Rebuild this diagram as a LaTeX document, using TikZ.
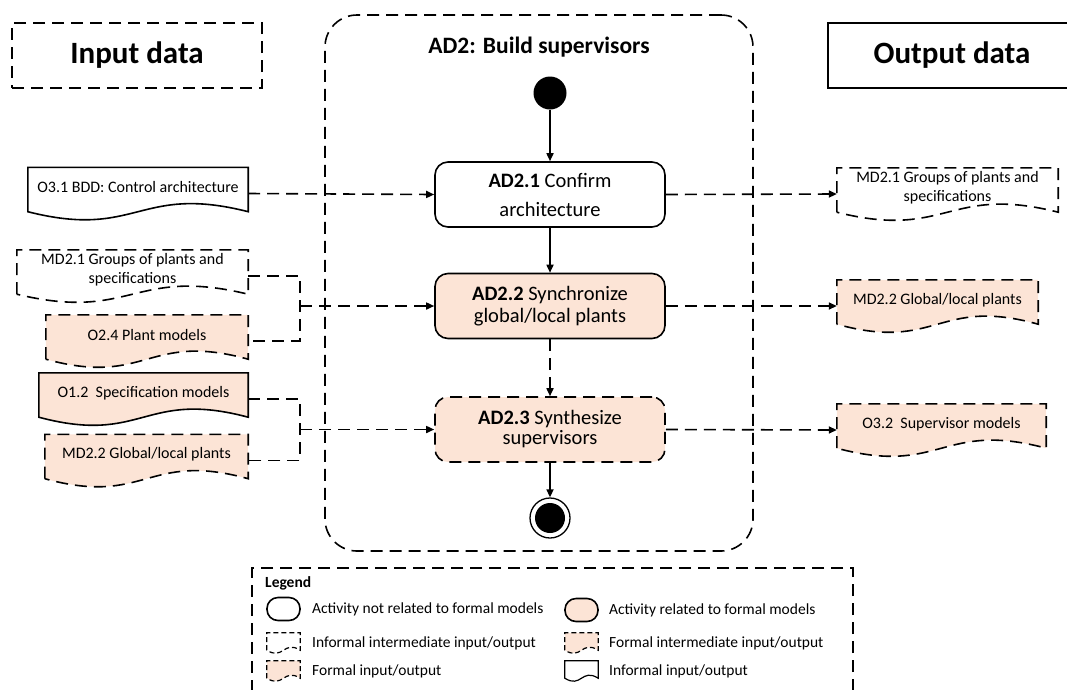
\documentclass[tikz,border=0pt]{standalone}
\usepackage{fontspec}
\setmainfont{Carlito}
\usetikzlibrary{arrows.meta,backgrounds,calc}
\definecolor{peach}{RGB}{252,228,214}
\newcommand\docoutline[3]{%
  \path[#2] ($(#1.south west)+(0,-#3)$) -- (#1.north west) -- (#1.north east) -- ($(#1.south east)+(0,-#3)$)
  .. controls ($(#1.south)+(0,{-4.5*#3})$) and ($(#1.south)+(0,{2.5*#3})$) .. ($(#1.south west)+(0,-#3)$) -- cycle;}
\tikzset{
  lw/.style={line width=1.6pt},
  dsh/.style={dash pattern=on 12pt off 7pt},
  smalldsh/.style={dash pattern=on 5pt off 3pt},
  conn/.style={line width=1.6pt, -{Triangle[length=8pt,width=7pt]}},
  activity/.style={draw, line width=1.6pt, rounded corners=13pt, minimum width=230pt, minimum height=65pt, align=center},
  docnode/.style={minimum width=#1, minimum height=52pt, inner sep=0pt, draw=none},
  doctext/.style={font=\fontsize{16}{19}\selectfont, align=center, yshift=6pt},
  legtext/.style={anchor=west, font=\fontsize{15.5}{18}\selectfont, inner sep=0pt},
  icondoc/.style={minimum width=33pt, minimum height=20pt, inner sep=0pt, draw=none},
}
\begin{document}
\begin{tikzpicture}[x=1pt,y=-1pt]
\useasboundingbox (0,0) rectangle (1067,689);
% headers
\node[draw, lw, dsh, minimum width=250pt, minimum height=65pt, font=\bfseries\fontsize{31}{35}\selectfont] (inp) at (137,55.5) {Input data};
\node[draw, lw, minimum width=248pt, minimum height=65pt, font=\bfseries\fontsize{31}{35}\selectfont] (outp) at (952,55.5) {Output data};
% container
\node[draw, lw, dsh, rounded corners=32pt, minimum width=428pt, minimum height=536pt] (cont) at (539,283) {};
\node[font=\bfseries\fontsize{23.5}{27}\selectfont] (title) at (539,47) {AD2: Build supervisors};
% start / activities / end
\node[circle, fill=black, minimum size=33pt, inner sep=0pt] (start) at (550,93) {};
\node[activity, fill=white, font=\fontsize{20.5}{29}\selectfont] (AD21) at (550,194.5) {\textbf{AD2.1} Confirm\\architecture};
\node[activity, fill=peach, font=\fontsize{20.5}{22}\selectfont] (AD22) at (550,306) {\textbf{AD2.2} Synchronize\\global/local plants};
\node[activity, fill=peach, dsh, font=\fontsize{20.5}{20}\selectfont] (AD23) at (550,429.5) {\textbf{AD2.3} Synthesize\\supervisors};
\node[circle, draw, line width=1.3pt, fill=white, minimum size=40pt, inner sep=0pt] (endo) at (550,518) {};
\node[circle, fill=black, minimum size=30pt, inner sep=0pt] (endi) at (endo.center) {};
% left documents
\node[docnode=220pt, label={[doctext]center:O3.1 BDD: Control architecture}] (O31) at (138,193.5) {};
\node[docnode=231pt, label={[doctext]center:{MD2.1 Groups of plants and\\specifications}}] (MD21L) at (132.5,276) {};
\node[docnode=202pt, label={[doctext]center:O2.4 Plant models}] (O24) at (147,341) {};
\node[docnode=209pt, label={[doctext]center:O1.2\ \ Specification models}] (O12) at (143.5,399) {};
\node[docnode=203pt, label={[doctext]center:MD2.2 Global/local plants}] (MD22L) at (146.5,460.5) {};
% right documents
\node[docnode=221pt, label={[doctext]center:{MD2.1 Groups of plants and\\specifications}}] (MD21R) at (947.5,194) {};
\node[docnode=201pt, label={[doctext]center:MD2.2 Global/local plants}] (MD22R) at (937.5,306) {};
\node[docnode=209pt, label={[doctext]center:O3.2\ \ Supervisor models}] (O32) at (941.5,430) {};
% legend
\node[draw, lw, dsh, minimum width=601pt, minimum height=130pt] (leg) at (552.5,633) {};
\node[anchor=west, inner sep=0pt, font=\bfseries\fontsize{15.5}{18}\selectfont] (legt) at (265,583) {Legend};
\node[draw, lw, rounded corners=11pt, minimum width=33pt, minimum height=23pt, inner sep=0pt] (i1) at (283.5,609) {};
\node[legtext] (t1) at (312,609) {Activity not related to formal models};
\node[icondoc] (i2) at (283.5,643) {};
\node[legtext] (t2) at (312,643) {Informal intermediate input/output};
\node[icondoc] (i3) at (283.5,671) {};
\node[legtext] (t3) at (312,671) {Formal input/output};
\node[draw, lw, fill=peach, rounded corners=11pt, minimum width=33pt, minimum height=23pt, inner sep=0pt] (i4) at (581.5,610) {};
\node[legtext] (t4) at (609,610) {Activity related to formal models};
\node[icondoc] (i5) at (581.5,643) {};
\node[legtext] (t5) at (609,643) {Formal intermediate input/output};
\node[icondoc] (i6) at (581.5,671) {};
\node[legtext] (t6) at (609,671) {Informal input/output};
% document outlines
\begin{scope}[on background layer]
\docoutline{O31}{draw, lw, fill=white}{8}
\docoutline{MD21L}{draw, lw, dsh, fill=white}{8}
\docoutline{O24}{draw, lw, dsh, fill=peach}{8}
\docoutline{O12}{draw, lw, fill=peach}{8}
\docoutline{MD22L}{draw, lw, dsh, fill=peach}{8}
\docoutline{MD21R}{draw, lw, dsh, fill=white}{8}
\docoutline{MD22R}{draw, lw, dsh, fill=peach}{8}
\docoutline{O32}{draw, lw, dsh, fill=peach}{8}
\docoutline{i2}{draw, line width=1.2pt, smalldsh, fill=white}{3}
\docoutline{i3}{draw, line width=1.2pt, smalldsh, fill=peach}{3}
\docoutline{i5}{draw, line width=1.2pt, smalldsh, fill=peach}{3}
\docoutline{i6}{draw, line width=1.2pt, fill=white}{3}
\end{scope}
% flow
\draw[conn] (start) -- (AD21);
\draw[conn] (AD21) -- (AD22);
\draw[conn, dsh] (AD22) -- (AD23);
\draw[conn] (AD23) -- (endo);
% inputs
\draw[conn, dsh] (O31.east) -- (AD21.west);
\coordinate (j1) at (300,306);
\coordinate (j2) at (300,429.5);
\draw[lw, dsh] (MD21L.east) -| (j1) |- (O24.east);
\draw[conn, dsh] (j1) -- (AD22.west);
\draw[lw, dsh] (O12.east) -| (j2) |- (MD22L.east);
\draw[conn, dsh] (j2) -- (AD23.west);
% outputs
\draw[conn, dsh] (AD21.east) -- (MD21R.west);
\draw[conn, dsh] (AD22.east) -- (MD22R.west);
\draw[conn, dsh] (AD23.east) -- (O32.west);
\end{tikzpicture}
\end{document}
